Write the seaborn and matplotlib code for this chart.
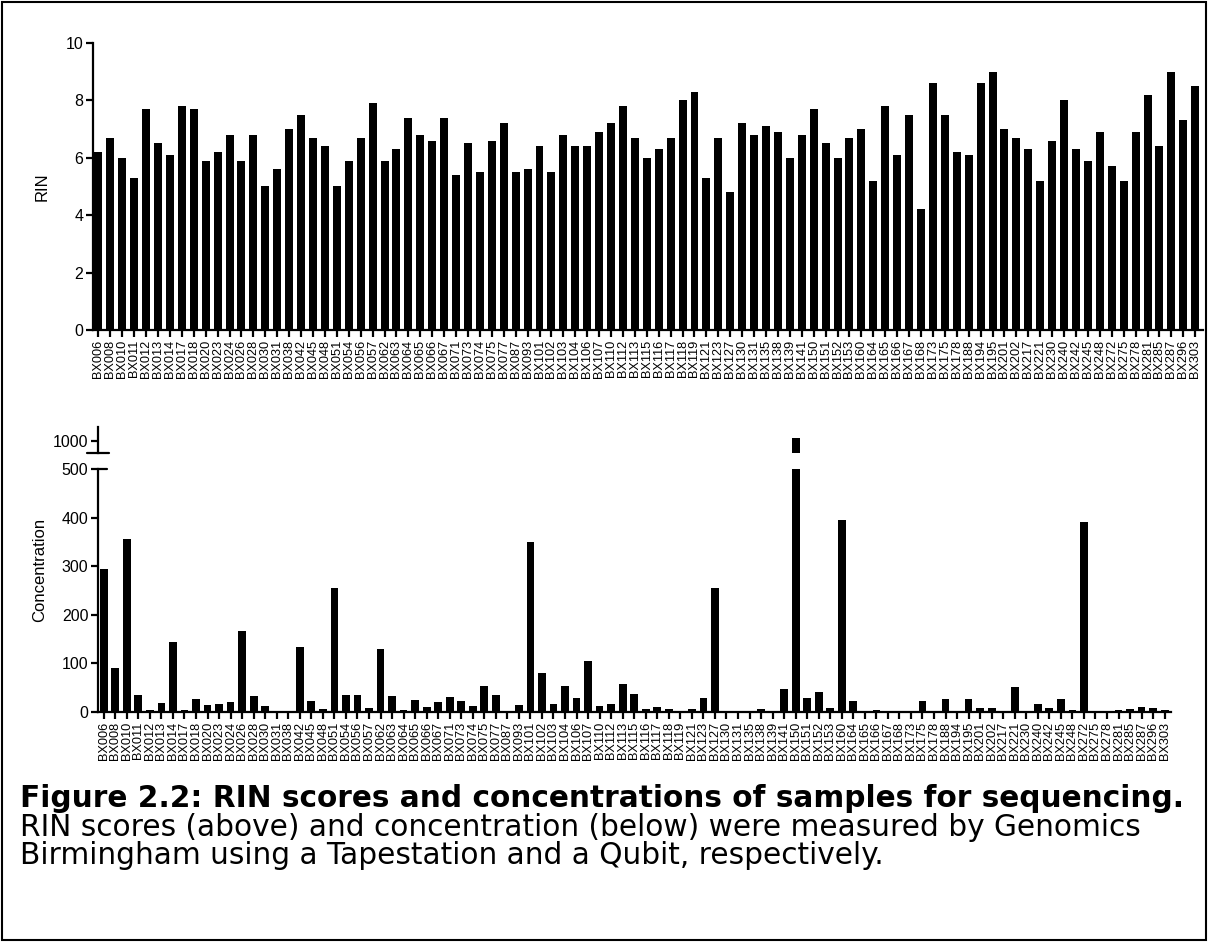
import pandas as pd
import matplotlib.pyplot as plt
import seaborn as sns
from matplotlib.patches import Rectangle

# sample IDs (same order in both panels)
samples = ["BX006", "BX008", "BX010", "BX011", "BX012", "BX013", "BX014", "BX017", "BX018", "BX020",
           "BX023", "BX024", "BX026", "BX028", "BX030", "BX031", "BX038", "BX042", "BX045", "BX048",
           "BX051", "BX054", "BX056", "BX057", "BX062", "BX063", "BX064", "BX065", "BX066", "BX067",
           "BX071", "BX073", "BX074", "BX075", "BX077", "BX087", "BX093", "BX101", "BX102", "BX103",
           "BX104", "BX106", "BX107", "BX110", "BX112", "BX113", "BX115", "BX116", "BX117", "BX118",
           "BX119", "BX121", "BX123", "BX127", "BX130", "BX131", "BX135", "BX138", "BX139", "BX141",
           "BX150", "BX151", "BX152", "BX153", "BX160", "BX164", "BX165", "BX166", "BX167", "BX168",
           "BX173", "BX175", "BX178", "BX188", "BX194", "BX195", "BX201", "BX202", "BX217", "BX221",
           "BX230", "BX240", "BX242", "BX245", "BX248", "BX272", "BX275", "BX278", "BX281", "BX285",
           "BX287", "BX296", "BX303"]

rin = [6.2, 6.7, 6.0, 5.3, 7.7, 6.5, 6.1, 7.8, 7.7, 5.9,
       6.2, 6.8, 5.9, 6.8, 5.0, 5.6, 7.0, 7.5, 6.7, 6.4,
       5.0, 5.9, 6.7, 7.9, 5.9, 6.3, 7.4, 6.8, 6.6, 7.4,
       5.4, 6.5, 5.5, 6.6, 7.2, 5.5, 5.6, 6.4, 5.5, 6.8,
       6.4, 6.4, 6.9, 7.2, 7.8, 6.7, 6.0, 6.3, 6.7, 8.0,
       8.3, 5.3, 6.7, 4.8, 7.2, 6.8, 7.1, 6.9, 6.0, 6.8,
       7.7, 6.5, 6.0, 6.7, 7.0, 5.2, 7.8, 6.1, 7.5, 4.2,
       8.6, 7.5, 6.2, 6.1, 8.6, 9.0, 7.0, 6.7, 6.3, 5.2,
       6.6, 8.0, 6.3, 5.9, 6.9, 5.7, 5.2, 6.9, 8.2, 6.4,
       9.0, 7.3, 8.5]

concentration = [294, 91, 355, 35, 5, 19, 145, 5, 27, 15,
                 16, 21, 167, 33, 12, 3, 1, 134, 22, 7,
                 255, 34, 34, 8, 130, 32, 5, 25, 11, 21,
                 30, 22, 12, 53, 34, 0.5, 14, 349, 80, 16,
                 53, 29, 104, 12, 16, 57, 37, 5.5, 10, 5.5,
                 0.5, 7, 29, 255, 3, 0.5, 0, 6, 0, 47,
                 1005, 28, 42, 9, 395, 23, 0, 5, 0, 0,
                 0, 23, 0, 27, 0, 27, 8, 9, 0, 51,
                 0, 16, 8, 27, 4, 390, 0, 0, 5, 5.5,
                 11, 9, 4]

caption_title = "Figure 2.2: RIN scores and concentrations of samples for sequencing."
caption_lines = ["RIN scores (above) and concentration (below) were measured by Genomics",
                 "Birmingham using a Tapestation and a Qubit, respectively."]

df = pd.DataFrame({"sample": samples, "RIN": rin, "Concentration": concentration})

sns.set_theme(style="ticks")
plt.rcParams['font.family'] = ['Liberation Sans', 'DejaVu Sans']
plt.rcParams['text.color'] = 'black'

W, H = 1208, 942
fig = plt.figure(figsize=(W / 100, H / 100), dpi=100)


def frac(x0, y0, x1, y1):
    # pixel box -> figure fraction [left, bottom, width, height]
    return [x0 / W, 1 - y1 / H, (x1 - x0) / W, (y1 - y0) / H]


def style_axis(ax):
    for s in ["top", "right"]:
        ax.spines[s].set_visible(False)
    for s in ["left", "bottom"]:
        ax.spines[s].set_linewidth(1.6)
        ax.spines[s].set_color("black")
    ax.tick_params(axis="both", colors="black", width=1.6, length=5)
    ax.tick_params(axis="y", labelsize=11.5, pad=2)
    ax.tick_params(axis="x", labelsize=9.2, rotation=90, pad=2)


bar_kw = dict(color="black", saturation=1, width=0.67, edgecolor="none")

# --- RIN panel ---
ax1 = fig.add_axes(frac(93, 43, 1203, 330))
sns.barplot(data=df, x="sample", y="RIN", ax=ax1, **bar_kw)
ax1.set_ylim(0, 10)
ax1.set_xlim(-0.45, len(samples) - 0.35)
ax1.set_yticks([0, 2, 4, 6, 8, 10])
ax1.set_xlabel("")
ax1.set_ylabel("RIN", fontsize=12, color="black")
ax1.yaxis.set_label_coords(-0.039, 0.5)
style_axis(ax1)

# --- Concentration panel (broken y axis) ---
ax_hi = fig.add_axes(frac(98, 427, 1171, 453))
ax_lo = fig.add_axes(frac(98, 469, 1171, 712))

for ax in (ax_hi, ax_lo):
    sns.barplot(data=df, x="sample", y="Concentration", ax=ax, **bar_kw)
    ax.set_xlim(-0.5, len(samples) - 0.45)
    ax.set_xlabel("")
    style_axis(ax)

ax_lo.set_ylim(0, 500)
ax_lo.set_yticks([0, 100, 200, 300, 400, 500])
ax_lo.set_ylabel("Concentration", fontsize=12, color="black")
ax_lo.yaxis.set_label_coords(-0.047, 0.584)

ax_hi.set_ylim(975, 1028)
ax_hi.set_yticks([1000])
ax_hi.set_ylabel("")
ax_hi.spines["bottom"].set_visible(False)
ax_hi.tick_params(axis="x", bottom=False, labelbottom=False)

# break marks
ax_hi.plot([-0.01, 0.01], [0, 0], transform=ax_hi.transAxes, color="black",
           lw=1.6, clip_on=False)
ax_lo.plot([0, 0.008], [1, 1], transform=ax_lo.transAxes, color="black",
           lw=1.6, clip_on=False)

# --- caption ---
fig.text(20 / W, 1 - 807 / H, caption_title, fontsize=21.3, fontweight="bold",
         family="DejaVu Sans", va="baseline", ha="left", color="black")
for i, line in enumerate(caption_lines):
    fig.text(20 / W, 1 - (836 + 28 * i) / H, line, fontsize=21.3,
             family="DejaVu Sans", va="baseline", ha="left", color="black")

# frame round the whole figure
fig.patches.append(Rectangle((0.002, 0.002), 0.996, 0.996, transform=fig.transFigure,
                             fill=False, edgecolor="black", lw=1.5))

fig.savefig("out.png", dpi=100, facecolor="white")
